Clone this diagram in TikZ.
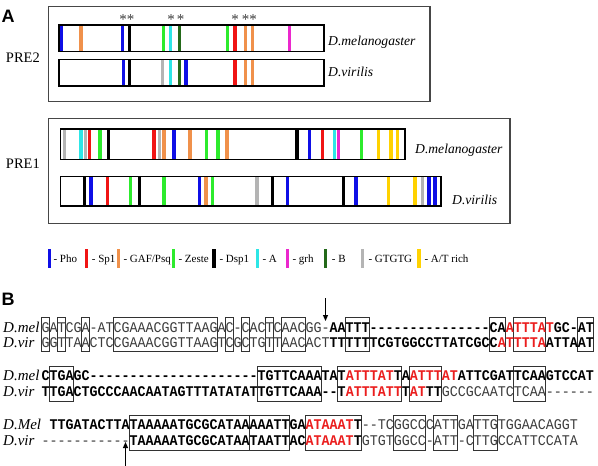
\documentclass[tikz,border=0pt]{standalone}
\usepackage{fontspec}
\setmainfont{Liberation Serif}
\setsansfont{Liberation Sans}
\setmonofont[FakeStretch=0.9]{Liberation Mono}
\usetikzlibrary{arrows.meta}
\definecolor{cblue}{RGB}{15,15,230}
\definecolor{cred}{RGB}{240,20,20}
\definecolor{corange}{RGB}{240,145,75}
\definecolor{cgreen}{RGB}{45,235,45}
\definecolor{ccyan}{RGB}{45,230,230}
\definecolor{cmagenta}{RGB}{235,40,205}
\definecolor{cdkgreen}{RGB}{35,105,25}
\definecolor{cgrey}{RGB}{180,180,180}
\definecolor{cyellow}{RGB}{255,210,0}
\definecolor{frame}{RGB}{70,70,70}
\definecolor{seqred}{RGB}{235,30,30}
\definecolor{seqgrey}{RGB}{60,60,60}
\definecolor{boxcol}{RGB}{50,50,50}
\newcommand\seqN[1]{\textcolor{seqgrey}{#1}}
\newcommand\seqB[1]{\textbf{#1}}
\newcommand\seqR[1]{\textcolor{seqred}{\textbf{#1}}}
\begin{document}
\begin{tikzpicture}[x=1pt,y=-1pt,
  panel/.style={font=\sffamily\bfseries\fontsize{18}{20}\selectfont, inner sep=0, anchor=base west},
  outerbox/.style={draw=frame, line width=1.2pt},
  barbox/.style={draw=black, line width=1.2pt},
  prelab/.style={font=\fontsize{14.5}{16}\selectfont, inner sep=0, anchor=east},
  spec/.style={font=\itshape\fontsize{13.6}{15}\selectfont, inner sep=0, anchor=base west},
  astx/.style={font=\fontsize{15}{16}\selectfont, text=seqgrey, inner sep=0, anchor=base},
  legtxt/.style={font=\fontsize{11}{12}\selectfont, inner sep=0, anchor=base west},
  seqlab/.style={font=\itshape\fontsize{15}{16}\selectfont, inner sep=0, anchor=base west},
  seqtxt/.style={font=\ttfamily\fontsize{14.815}{16}\selectfont, inner sep=0, anchor=base west},
  seqbox/.style={draw=boxcol, line width=0.9pt},
  arr/.style={-{Triangle[length=6pt,width=5pt]}, line width=1.1pt}
]
\useasboundingbox (0,0) rectangle (598,466);
\fill[white] (0,0) rectangle (598,466);

% ---------------- Panel A ----------------
\node[panel] (pA) at (1.5,22.5) {A};
\draw[outerbox] (48.3,6.7) rectangle (430,101.7);
\node[prelab] (pre2) at (40,58) {PRE2};
% PRE2 melanogaster
\foreach \x/\c in {61.7/cblue,81/corange,122.7/cblue,129.3/black,163.3/cgreen,170.7/ccyan,179.3/cdkgreen,227.7/cgreen,235/cred,245.7/corange,252.7/corange,289.3/cmagenta}
  \fill[\c] (\x-1.7,25) rectangle (\x+1.7,51.7);
\draw[barbox] (59,25) rectangle (324,51.7);
% PRE2 virilis
\foreach \x/\c in {123.3/cblue,129.3/black,162.7/cgrey,170.7/ccyan,179.3/cdkgreen,186/cblue,235/cred,245.7/corange,252.7/corange}
  \fill[\c] (\x-1.7,59.3) rectangle (\x+1.7,86);
\draw[barbox] (59,59.3) rectangle (324,86);
\node[spec] (m2) at (328,45) {D.melanogaster};
\node[spec] (v2) at (328,76) {D.virilis};
% asterisks
\node[astx] (s1) at (123,24.5) {*};
\node[astx] (s2) at (130.5,24.5) {*};
\node[astx] (s3) at (171,24.5) {*};
\node[astx] (s4) at (180.5,24.5) {*};
\node[astx] (s5) at (235,24.5) {*};
\node[astx] (s6) at (245.7,24.5) {*};
\node[astx] (s7) at (253.2,24.5) {*};

\draw[outerbox] (48.3,118.3) rectangle (510,223.3);
\node[prelab] (pre1) at (40,164) {PRE1};
% PRE1 melanogaster
\foreach \x/\c in {64.3/cgrey,81/ccyan,85.7/cgrey,89.3/cred,100/cgreen,108.3/black,154/cred,159.3/cgrey,164/corange,174/cblue,190/corange,206.5/cgreen,217.8/cgreen,227/corange,297/black,309.2/cblue,322.2/cred,334.5/ccyan,338.7/cmagenta,361.2/cgreen,378.3/cyellow,391/cyellow,397.3/cyellow}
  \fill[\c] (\x-1.7,129) rectangle (\x+1.7,159.3);
\draw[barbox] (60.7,129) rectangle (405,159.3);
% PRE1 virilis
\foreach \x/\c in {84.3/black,91/cblue,107.7/cred,130.7/cgreen,139.3/black,164/cgreen,199.6/cblue,206/corange,212.3/cgreen,257/cgrey,272.3/black,287.3/cblue,343.3/black,356/cblue,388.3/cyellow,415/cyellow,422.7/cgrey,429/cblue,435/cblue}
  \fill[\c] (\x-1.7,176.7) rectangle (\x+1.7,206);
\draw[barbox] (60.7,176.7) rectangle (441,206);
\node[spec] (m1) at (415,153.3) {D.melanogaster};
\node[spec] (v1) at (452,204) {D.virilis};

% legend
\foreach \x/\c in {49.3/cblue,86.7/cred,118.3/corange,173.3/cgreen,214/black,257.7/ccyan,287.3/cmagenta,325.7/cdkgreen,362.7/cgrey,419/cyellow}
  \fill[\c] (\x-1.7,249) rectangle (\x+1.7,268);
\node[legtxt] (l1) at (53.3,262) {- Pho};
\node[legtxt] (l2) at (91.7,262) {- Sp1};
\node[legtxt] (l3) at (123.3,262) {- GAF/Psq};
\node[legtxt] (l4) at (178.3,262) {- Zeste};
\node[legtxt] (l5) at (219.3,262) {- Dsp1};
\node[legtxt] (l6) at (262.3,262) {- A};
\node[legtxt] (l7) at (292.3,262) {- grh};
\node[legtxt] (l8) at (331.7,262) {- B};
\node[legtxt] (l9) at (368.3,262) {- GTGTG};
\node[legtxt] (l10) at (424.3,262) {- A/T rich};

% ---------------- Panel B ----------------
\node[panel] (pB) at (1.5,305) {B};

% block 1
\foreach \a/\b in {1/1,3/3,6/6,10/22,24/24,26/26,29/29,31/33,39/41,57/58,60/63,68/69}
  \draw[seqbox] ({41.5+(\a-1)*8},317.5) rectangle ({41.5+\b*8},351.5);
\node[seqlab] (b1ml) at (3,332) {D.mel};
\node[seqlab] (b1vl) at (3,347) {D.vir};
\node[seqtxt] (b1m) at (41.5,332) {\seqN{GATCGA-ATCGAAACGGTTAAGAC-CACTCAACGG-}\seqB{AATTT---------------CA}\seqR{ATTTAT}\seqB{GC-AT}};
\node[seqtxt] (b1v) at (41.5,347) {\seqN{GGTTAACTCCGAAACGGTTAAGTCGCTGTTAACACT}\seqB{TTTTTTCGTGGCCTTATCGCC}\seqR{ATTTTA}\seqB{ATTAAT}};
\coordinate (ar1s) at (325.5,298);
\coordinate (ar1e) at (325.5,321);
\draw[arr] (ar1s) -- (ar1e);

% block 2
\foreach \a/\b in {2/4,28/35,38/45,47/50,60/63}
  \draw[seqbox] ({41.5+(\a-1)*8},366.5) rectangle ({41.5+\b*8},401);
\node[seqlab] (b2ml) at (3,380) {D.mel};
\node[seqlab] (b2vl) at (3,396) {D.vir};
\node[seqtxt] (b2m) at (41.5,380) {\seqB{CTGAGC---------------------TGTTCAAATAT}\seqR{ATTTAT}\seqB{TA}\seqR{ATTTAT}\seqB{ATTCGATTCAAGTCCAT}};
\node[seqtxt] (b2v) at (41.5,396) {\seqB{TTGACTGCCCAACAATAGTTTATATATTGTTCAAA--T}\seqR{ATTTATT}\seqB{T}\seqR{AT}\seqB{TT}\seqN{GCCGCAATCTCAA------}};

% block 3
\foreach \a/\b in {12/26,27/31,34/40,45/48,50/52,55/57}
  \draw[seqbox] ({41.5+(\a-1)*8},415) rectangle ({41.5+\b*8},450);
\node[seqlab] (b3ml) at (3,429) {D.Mel};
\node[seqlab] (b3vl) at (3,445) {D.vir};
\node[seqtxt] (b3m) at (49.5,429) {\seqB{TTGATACTTATAAAAATGCGCATAAAAATTGA}\seqR{ATAAAT}\seqB{T}\seqN{--TCGGCCCATTGATTGTGGAACAGGT}};
\node[seqtxt] (b3v) at (41.5,445) {\seqN{-----------}\seqB{TAAAAATGCGCATAATAATTAC}\seqR{ATAAAT}\seqB{T}\seqN{GTGTGGCC-ATT-CTTGCCATTCCATA}};
\coordinate (ar3s) at (125.5,466);
\coordinate (ar3e) at (125.5,442);
\draw[arr] (ar3s) -- (ar3e);
\end{tikzpicture}
\end{document}
